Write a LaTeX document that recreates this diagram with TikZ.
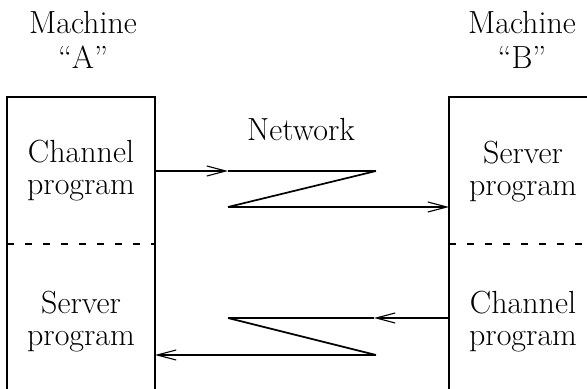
\documentclass[tikz,border=0pt]{standalone}
\usetikzlibrary{arrows.meta}
\begin{document}
\begin{tikzpicture}[x=0.5pt,y=-0.5pt,
    lbl/.style={align=center,font=\fontsize{16}{16}\selectfont},
    msg/.style={line width=0.55pt,-{Straight Barb[length=9.5pt,width=5pt]}},
    zig/.style={line width=0.85pt}]
  \useasboundingbox (0,0) rectangle (587,389);
  % machine boxes
  \draw [line width=0.6pt] (7,400) -- (7,97) -- (155,97) -- (155,400);
  \draw [line width=0.6pt] (449,400) -- (449,97) -- (600,97);
  \draw [dashed,dash pattern=on 3.5pt off 5.5pt,line width=0.6pt] (7,244) -- (155,244);
  \draw [dashed,dash pattern=on 3.5pt off 5.5pt,line width=0.6pt] (449,244) -- (600,244);
  \node [lbl,font=\fontsize{16}{17.5}\selectfont] (ma) at (83,40) {Machine\\``A''};
  \node [lbl,font=\fontsize{16}{17.5}\selectfont] (mb) at (522,40) {Machine\\``B''};
  \node [lbl] (net) at (301,130) {Network};
  \node [lbl] (chA) at (81,171) {Channel\\program};
  \node [lbl] (svA) at (81,322) {Server\\program};
  \node [lbl] (svB) at (523,172) {Server\\program};
  \node [lbl] (chB) at (523,322) {Channel\\program};
  % ends of the links
  \coordinate (outA) at (155,171);
  \coordinate (inB) at (449,207);
  \coordinate (outB) at (449,318);
  \coordinate (inA) at (155,355);
  \coordinate (m1) at (228,171);
  \coordinate (z1) at (376,171);
  \coordinate (z2) at (228,207);
  \coordinate (m2) at (374,318);
  \coordinate (z3) at (228,318);
  \coordinate (z4) at (376,355);
  % request A -> B
  \draw [msg] (outA) -- (m1);
  \draw [line width=0.55pt] (m1) -- (z1);
  \draw [zig] (z1) -- (z2);
  \draw [msg] (z2) -- (inB);
  % request B -> A
  \draw [msg] (outB) -- (m2);
  \draw [line width=0.55pt] (m2) -- (z3);
  \draw [zig] (z3) -- (z4);
  \draw [msg] (z4) -- (inA);
\end{tikzpicture}
\end{document}
